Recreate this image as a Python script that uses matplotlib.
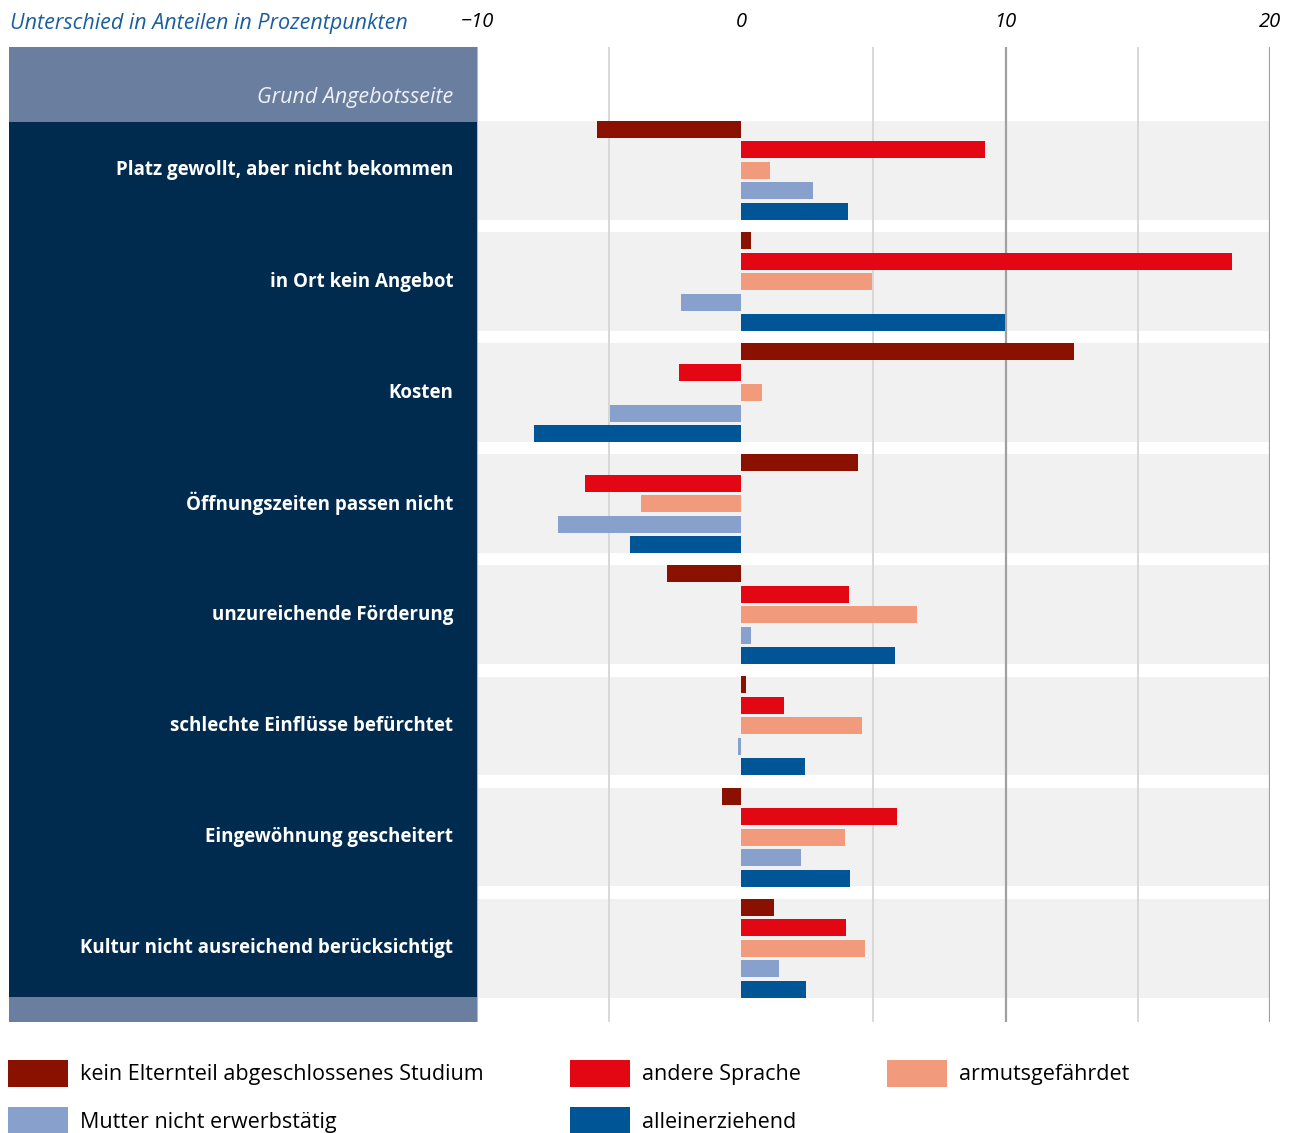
import numpy as np
import matplotlib.pyplot as plt
from matplotlib.patches import Patch

# Daten (Unterschied in Prozentpunkten)
gruende = ["Platz gewollt, aber nicht bekommen",
           "in Ort kein Angebot",
           "Kosten",
           "Öffnungszeiten passen nicht",
           "unzureichende Förderung",
           "schlechte Einflüsse befürchtet",
           "Eingewöhnung gescheitert",
           "Kultur nicht ausreichend berücksichtigt"]

kein_studium = [-5.45, 0.35, 12.6, 4.4, -2.83, 0.16, -0.75, 1.22]
andere_sprache = [9.2, 18.57, -2.34, -5.9, 4.06, 1.6, 5.88, 3.95]
armut = [1.1, 4.95, 0.77, -3.81, 6.64, 4.56, 3.91, 4.67]
mutter = [2.7, -2.3, -4.95, -6.92, 0.35, -0.14, 2.25, 1.41]
allein = [4.05, 9.97, -7.86, -4.23, 5.8, 2.4, 4.1, 2.43]

serien = [("kein Elternteil abgeschlossenes Studium", kein_studium, "#8a1000"),
          ("andere Sprache", andere_sprache, "#e30613"),
          ("armutsgefährdet", armut, "#f29a7c"),
          ("Mutter nicht erwerbstätig", mutter, "#87a0cc"),
          ("alleinerziehend", allein, "#005596")]

xticks = [-10, 0, 10, 20]
xtick_labels = ["\u221210", "0", "10", "20"]

plt.rcParams['font.family'] = ['Open Sans', 'DejaVu Sans']

W, H = 1299, 1133
fig = plt.figure(figsize=(W / 100, H / 100), dpi=100)

# Achsen in Pixeln
top, bottom = 47, 1022
ax_l = fig.add_axes([9 / W, (H - bottom) / H, 468 / W, (bottom - top) / H])
ax = fig.add_axes([477 / W, (H - bottom) / H, 793 / W, (bottom - top) / H])

P = 5.42          # Abstand zwischen Gruppen (in Balken-Slots)
bar_h = 0.83
y_top, y_bot = -4.02, 43.54
n = len(gruende)
basis = np.arange(n) * P

for a in (ax, ax_l):
    a.set_ylim(y_bot, y_top)
    for s in a.spines.values():
        s.set_visible(False)

# graue Hintergrundbänder
for b in basis:
    ax.axhspan(b - 0.41, b + 4.41, color="#f1f1f1", zorder=0, lw=0)

# Gitterlinien
for xv in [-5, 5, 15]:
    ax.axvline(xv, color="#d6d6d6", lw=1.3, zorder=1)
for xv in [10, 20]:
    ax.axvline(xv, color="#a0a0a0", lw=1.6, zorder=1)
ax.axvline(-10, color="#b8b8b8", lw=1.5, zorder=1)

for j, (name, werte, farbe) in enumerate(serien):
    ax.barh(basis + j, werte, height=bar_h, color=farbe, zorder=2, lw=0)

ax.set_xlim(-10, 20)
ax.xaxis.tick_top()
ax.set_xticks(xticks)
ax.set_xticklabels(xtick_labels, fontstyle="italic", fontsize=14.5)
ax.tick_params(axis="x", length=0, pad=11)
ax.set_yticks([])
ax.set_facecolor("none")

# linkes Panel
ax_l.set_xlim(0, 1)
ax_l.axhspan(y_top, -0.37, color="#6a7fa0", lw=0)
ax_l.axhspan(-0.37, basis[-1] + 4.36, color="#002a4e", lw=0)
ax_l.axhspan(basis[-1] + 4.36, y_bot, color="#6a7fa0", lw=0)
ax_l.set_xticks([])
ax_l.set_yticks([])
ax_l.text(0.949, -1.55, "Grund Angebotsseite", color="#eef0f5", fontsize=15.5,
          fontstyle="italic", ha="right", va="center")
for b, g in zip(basis, gruende):
    ax_l.text(0.949, b + 2, g, color="white", fontsize=13.5, fontweight="bold",
              ha="right", va="center")

fig.text(10 / W, 1 - 23 / H, "Unterschied in Anteilen in Prozentpunkten",
         color="#1b5ea0", fontsize=15.5, fontstyle="italic", ha="left", va="center")

# Legende, zeilenweise angeordnet
reihenfolge = [0, 3, 1, 4, 2]
handles = [Patch(facecolor=serien[i][2], lw=0) for i in reihenfolge]
labels = [serien[i][0] for i in reihenfolge]
fig.legend(handles, labels, ncol=3, frameon=False, fontsize=15.5,
           loc="upper left", bbox_to_anchor=(-1 / W, 1 - 1051 / H),
           handlelength=2.8, handleheight=1.6, handletextpad=0.56,
           columnspacing=4.0, labelspacing=0.9, borderaxespad=0)

fig.savefig("out.png", dpi=100)
